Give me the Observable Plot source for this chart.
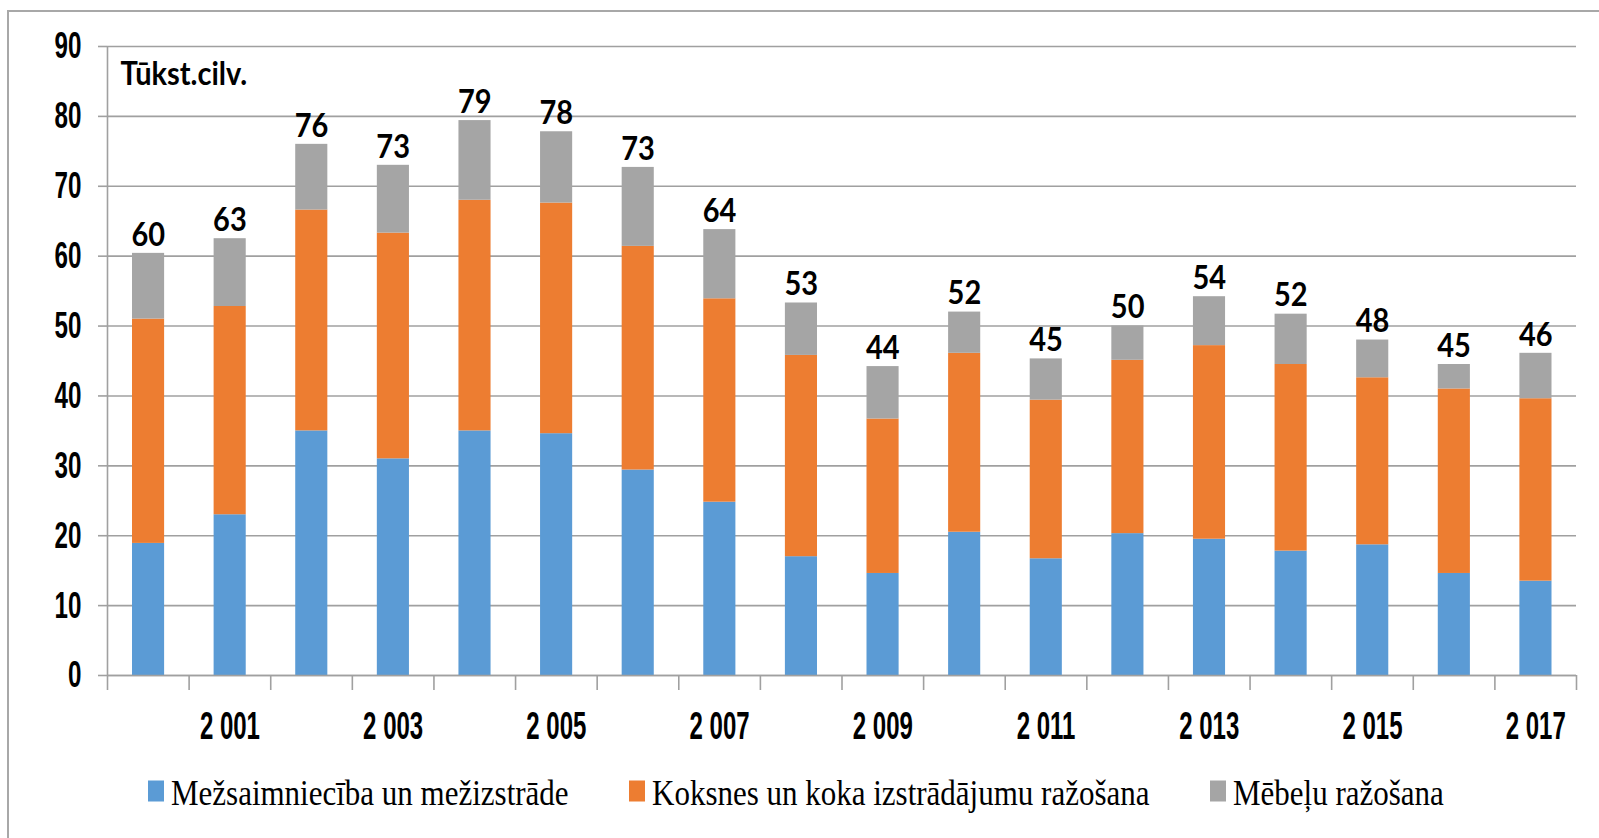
<!DOCTYPE html>
<html>
<head>
<meta charset="utf-8">
<script src="https://cdn.jsdelivr.net/npm/d3@7"></script>
<script src="https://cdn.jsdelivr.net/npm/@observablehq/plot@0.6"></script>
<style>
html, body { margin: 0; padding: 0; background: #fff; }
#wrap { position: relative; width: 1599px; height: 838px; overflow: hidden; background: #fff; }
#frame { position: absolute; left: 7px; top: 10px; width: 1700px; height: 900px;
  border-left: 2px solid #a8a8a8; border-top: 2px solid #a8a8a8; }
#chart { position: absolute; left: 0; top: 0; }
#legend { position: absolute; left: 0; top: 760px; }
</style>
</head>
<body>
<div id="wrap"><div id="frame"></div><div id="chart"></div><div id="legend"></div></div>
<script>
// ---- data ----
const years = [2000, 2001, 2002, 2003, 2004, 2005, 2006, 2007, 2008, 2009, 2010, 2011, 2012, 2013, 2014, 2015, 2016, 2017];
const forestry  = [18.9, 23.0, 35.0, 31.0, 35.0, 34.6, 29.4, 24.8, 17.0, 14.6, 20.5, 16.7, 20.3, 19.5, 17.8, 18.7, 14.6, 13.5];
const wood      = [32.1, 29.8, 31.6, 32.3, 33.0, 33.0, 32.0, 29.1, 28.8, 22.1, 25.6, 22.7, 24.8, 27.7, 26.7, 23.9, 26.4, 26.1];
const furniture = [9.4, 9.7, 9.4, 9.7, 11.4, 10.2, 11.3, 9.9, 7.5, 7.5, 5.9, 5.9, 4.9, 7.0, 7.2, 5.4, 3.5, 6.5];
const totalLabels = [60, 63, 76, 73, 79, 78, 73, 64, 53, 44, 52, 45, 50, 54, 52, 48, 45, 46];
const seriesNames = ["Mežsaimniecība un mežizstrāde", "Koksnes un koka izstrādājumu ražošana", "Mēbeļu ražošana"];
const seriesColors = ["#5B9BD5", "#ED7D31", "#A5A5A5"];
const yTicks = [0, 10, 20, 30, 40, 50, 60, 70, 80, 90];
const xLabelYears = [2001, 2003, 2005, 2007, 2009, 2011, 2013, 2015, 2017];
const unitLabel = "Tūkst.cilv.";

// ---- tables built from the arrays ----
const seriesValues = [forestry, wood, furniture];
const rows = [];
const totals = [];
years.forEach((yr, i) => {
  let acc = 0;
  seriesValues.forEach((vals, s) => {
    rows.push({year: yr, series: seriesNames[s], y1: acc, y2: acc + vals[i]});
    acc += vals[i];
  });
  totals.push({year: yr, total: acc, label: String(totalLabels[i])});
});
const boundaries = years.map(y => y - 0.5).concat([years[years.length - 1] + 0.5]);
const fmtYear = d3.formatLocale({thousands: " ", grouping: [3], decimal: ","}).format(",d");

const arialLike = "'Liberation Sans', Arial, sans-serif";
const calibriLike = "Lato, 'Open Sans', sans-serif";
const gridColor = "#a0a0a0";

const chart = Plot.plot({
  width: 1599,
  height: 760,
  marginLeft: 107,
  marginRight: 23,
  marginTop: 46,
  marginBottom: 85,
  x: {type: "linear", domain: [boundaries[0], boundaries[boundaries.length - 1]]},
  y: {domain: [0, 90]},
  color: {domain: seriesNames, range: seriesColors},
  style: {background: "transparent", overflow: "visible", color: "#000"},
  marks: [
    Plot.gridY(yTicks, {stroke: gridColor, strokeOpacity: 1, strokeWidth: 1.6}),
    Plot.rect(rows, {
      x1: d => d.year - 0.5, x2: d => d.year + 0.5, y1: "y1", y2: "y2",
      fill: "series", insetLeft: 25, insetRight: 24.5
    }),
    Plot.ruleY([0], {stroke: gridColor, strokeWidth: 1.6}),
    Plot.ruleX([boundaries[0]], {stroke: gridColor, strokeWidth: 1.6}),
    Plot.axisY(yTicks, {
      tickSize: 9, tickPadding: 17, stroke: gridColor, strokeWidth: 1.6, fill: "#000",
      fontSize: 29.5, fontWeight: "bold", fontFamily: arialLike, label: null
    }),
    Plot.axisX(boundaries, {
      tickSize: 15, tickFormat: () => "", stroke: gridColor, strokeWidth: 1.6, label: null
    }),
    Plot.axisX(xLabelYears, {
      tickSize: 0, tickPadding: 35, tickFormat: fmtYear, fill: "#000",
      fontSize: 30, fontWeight: "bold", fontFamily: arialLike, label: null
    }),
    Plot.text(totals, {
      x: "year", y: "total", text: "label", dy: -18,
      fontSize: 29, fontWeight: "bold", fontFamily: calibriLike, fill: "#000"
    }),
    Plot.text([unitLabel], {
      frameAnchor: "top-left", textAnchor: "start", lineAnchor: "top", dx: 13, dy: 16,
      fontSize: 29, fontWeight: "bold", fontFamily: calibriLike, fill: "#000"
    })
  ]
});
document.getElementById("chart").appendChild(chart);

// the reference's glyphs are tall and narrow: scale text about its anchor point
function scaleText(sel, sx, sy) {
  sel.each(function () {
    const t = d3.select(this);
    const x = +t.attr("x") || 0, y = +t.attr("y") || 0;
    const prev = t.attr("transform") || "";
    t.attr("transform", `${prev} translate(${x},${y}) scale(${sx},${sy}) translate(${-x},${-y})`);
  });
}
const svgSel = d3.select(chart);
scaleText(svgSel.selectAll('g[aria-label="y-axis tick label"] text'), 0.82, 1.26);
scaleText(svgSel.selectAll('g[aria-label="x-axis tick label"] text'), 0.8, 1.32);
scaleText(svgSel.selectAll('g[aria-label="text"] text'), 1, 1.1);

// ---- legend (below the chart) ----
const legendLefts = [148, 629, 1210];
const leg = d3.select("#legend").append("svg")
  .attr("width", 1599).attr("height", 78)
  .style("display", "block");
seriesNames.forEach((name, i) => {
  const g = leg.append("g").attr("transform", `translate(${legendLefts[i]},0)`);
  g.append("rect").attr("x", 0).attr("y", 20.5).attr("width", 16).attr("height", 21)
    .attr("fill", seriesColors[i]);
  g.append("text").text(name)
    .attr("transform", "translate(23,45) scale(1,1.14)")
    .attr("font-family", "'Liberation Serif', 'Times New Roman', serif")
    .attr("font-size", 31)
    .attr("fill", "#000");
});
</script>
</body>
</html>
